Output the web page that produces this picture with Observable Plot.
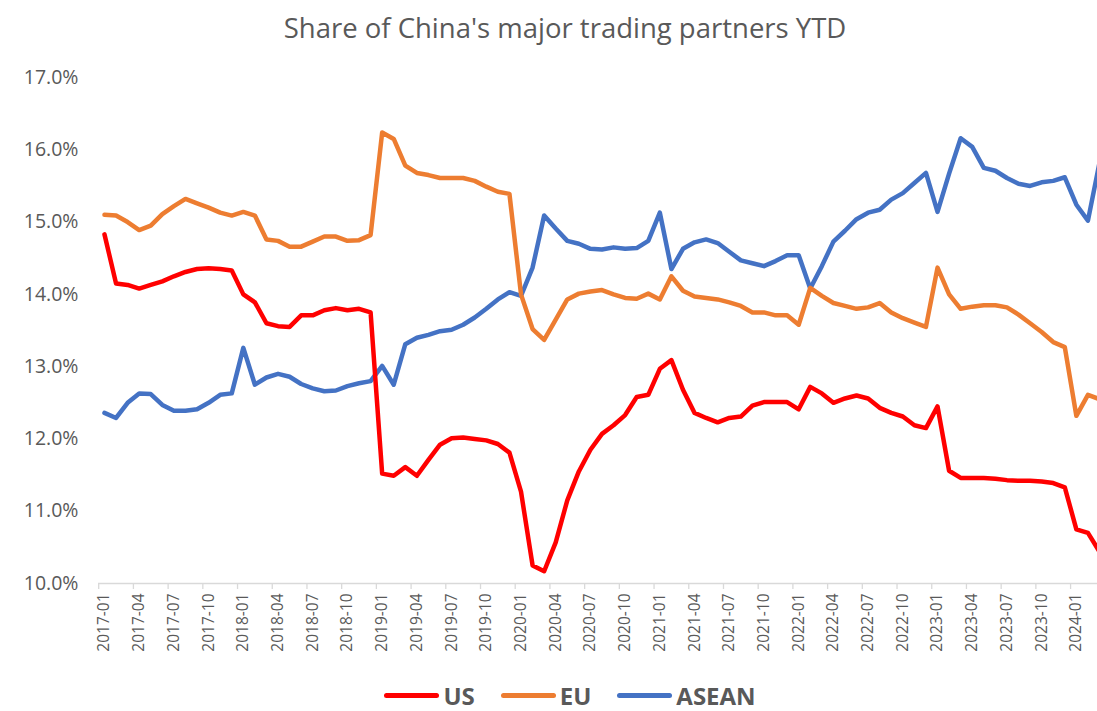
<!DOCTYPE html>
<html>
<head>
<meta charset="utf-8">
<script src="https://cdn.jsdelivr.net/npm/d3@7"></script>
<script src="https://cdn.jsdelivr.net/npm/@observablehq/plot@0.6"></script>
<style>
  html, body { margin: 0; padding: 0; background: #fff; overflow: hidden; width: 1097px; height: 711px; }
  #title { position: absolute; left: 0; top: 9px; width: 1130px; text-align: center;
           font-family: "Open Sans", sans-serif; font-size: 27.5px; color: #595959; line-height: 1.36; }
  #chart { position: absolute; left: 0; top: 56px; width: 1097px; height: 600px; }
  #legend { position: absolute; left: 0; top: 678px; width: 1140px; height: 34px; display: flex;
            justify-content: center; align-items: center; gap: 26px;
            font-family: "Open Sans", sans-serif; font-weight: bold; font-size: 24px; color: #595959; }
  .item { display: flex; align-items: center; gap: 4px; }
  .sw { width: 55px; height: 5px; border-radius: 3px; }
</style>
</head>
<body>
<div id="title"></div>
<div id="chart"></div>
<div id="legend"></div>
<script>
const titleText = "Share of China's major trading partners YTD";

const months = [
  "2017-01","2017-02","2017-03","2017-04","2017-05","2017-06","2017-07","2017-08","2017-09","2017-10","2017-11","2017-12",
  "2018-01","2018-02","2018-03","2018-04","2018-05","2018-06","2018-07","2018-08","2018-09","2018-10","2018-11","2018-12",
  "2019-01","2019-02","2019-03","2019-04","2019-05","2019-06","2019-07","2019-08","2019-09","2019-10","2019-11","2019-12",
  "2020-01","2020-02","2020-03","2020-04","2020-05","2020-06","2020-07","2020-08","2020-09","2020-10","2020-11","2020-12",
  "2021-01","2021-02","2021-03","2021-04","2021-05","2021-06","2021-07","2021-08","2021-09","2021-10","2021-11","2021-12",
  "2022-01","2022-02","2022-03","2022-04","2022-05","2022-06","2022-07","2022-08","2022-09","2022-10","2022-11","2022-12",
  "2023-01","2023-02","2023-03","2023-04","2023-05","2023-06","2023-07","2023-08","2023-09","2023-10","2023-11","2023-12",
  "2024-01","2024-02","2024-03"
];

const xTickLabels = [
  "2017-01","2017-04","2017-07","2017-10","2018-01","2018-04","2018-07","2018-10",
  "2019-01","2019-04","2019-07","2019-10","2020-01","2020-04","2020-07","2020-10",
  "2021-01","2021-04","2021-07","2021-10","2022-01","2022-04","2022-07","2022-10",
  "2023-01","2023-04","2023-07","2023-10","2024-01"
];

const yTicks = [10, 11, 12, 13, 14, 15, 16, 17];

const seriesNames = ["US", "EU", "ASEAN"];
const seriesColors = ["#FF0000", "#ED7D31", "#4472C4"];

const us = [
  14.83, 14.15, 14.13, 14.08, 14.13, 14.18, 14.25, 14.31, 14.35, 14.36, 14.35, 14.33,
  14.00, 13.89, 13.60, 13.56, 13.55, 13.71, 13.71, 13.78, 13.81, 13.78, 13.80, 13.75,
  11.52, 11.49, 11.61, 11.49, 11.71, 11.92, 12.01, 12.02, 12.00, 11.98, 11.93, 11.81,
  11.27, 10.25, 10.17, 10.57, 11.15, 11.55, 11.85, 12.07, 12.19, 12.33, 12.58, 12.61,
  12.97, 13.09, 12.68, 12.36, 12.29, 12.23, 12.29, 12.31, 12.46, 12.51, 12.51, 12.51,
  12.41, 12.72, 12.63, 12.50, 12.56, 12.60, 12.56, 12.43, 12.36, 12.31, 12.19, 12.15,
  12.45, 11.56, 11.46, 11.46, 11.46, 11.45, 11.43, 11.42, 11.42, 11.41, 11.39, 11.33,
  10.75, 10.70, 10.44
];

const eu = [
  15.10, 15.09, 15.00, 14.89, 14.95, 15.11, 15.22, 15.32, 15.26, 15.20, 15.13, 15.09,
  15.14, 15.09, 14.76, 14.74, 14.66, 14.66, 14.73, 14.80, 14.80, 14.74, 14.75, 14.82,
  16.24, 16.15, 15.78, 15.68, 15.65, 15.61, 15.61, 15.61, 15.57, 15.49, 15.42, 15.39,
  14.00, 13.52, 13.37, 13.65, 13.93, 14.01, 14.04, 14.06, 14.00, 13.95, 13.94, 14.01,
  13.93, 14.25, 14.05, 13.97, 13.95, 13.93, 13.89, 13.84, 13.75, 13.75, 13.71, 13.71,
  13.58, 14.09, 13.98, 13.88, 13.84, 13.80, 13.82, 13.88, 13.75, 13.67, 13.61, 13.55,
  14.37, 14.00, 13.80, 13.83, 13.85, 13.85, 13.82, 13.72, 13.60, 13.48, 13.34, 13.27,
  12.32, 12.61, 12.55
];

const asean = [
  12.36, 12.29, 12.50, 12.63, 12.62, 12.47, 12.39, 12.39, 12.41, 12.50, 12.61, 12.63,
  13.26, 12.75, 12.85, 12.90, 12.86, 12.76, 12.70, 12.66, 12.67, 12.73, 12.77, 12.80,
  13.01, 12.75, 13.31, 13.40, 13.44, 13.49, 13.51, 13.58, 13.68, 13.80, 13.93, 14.03,
  13.98, 14.37, 15.09, 14.91, 14.74, 14.70, 14.63, 14.62, 14.65, 14.63, 14.64, 14.74,
  15.13, 14.35, 14.63, 14.72, 14.76, 14.71, 14.59, 14.47, 14.43, 14.39, 14.46, 14.54,
  14.54, 14.08, 14.39, 14.73, 14.88, 15.04, 15.13, 15.17, 15.31, 15.40, 15.54, 15.68,
  15.14, 15.67, 16.16, 16.04, 15.75, 15.71, 15.61, 15.53, 15.50, 15.55, 15.57, 15.62,
  15.24, 15.02, 15.82
];

// Build long table
const seriesValues = { US: us, EU: eu, ASEAN: asean };
const drawOrder = ["ASEAN", "EU", "US"];
const data = drawOrder.flatMap(name =>
  seriesValues[name].map((v, i) => ({ series: name, i, month: months[i], v }))
);

const labelIdx = xTickLabels.map(l => months.indexOf(l));
const boundaryIdx = labelIdx.map(i => i - 0.5);

document.getElementById("title").textContent = titleText;

const chart = Plot.plot({
  width: 1097,
  height: 600,
  marginLeft: 98,
  marginRight: 0,
  marginTop: 21,
  marginBottom: 73,
  style: { fontFamily: "'Open Sans', sans-serif", background: "white", overflow: "hidden" },
  x: { type: "linear", domain: [-0.5, months.length - 0.5], range: [98.2, 98.2 + months.length * 11.57], axis: null },
  y: { domain: [10, 17], axis: null },
  color: { domain: seriesNames, range: seriesColors },
  marks: [
    Plot.axisY({ ticks: yTicks, tickSize: 0, tickPadding: 20, tickFormat: d => d.toFixed(1) + "%",
                 fontSize: 19.5, color: "#595959", label: null }),
    Plot.axisX({ ticks: boundaryIdx, tickSize: 6, tickFormat: () => "", stroke: "#d9d9d9", strokeWidth: 1.3, label: null }),
    Plot.axisX({ ticks: labelIdx, tickSize: 0, tickPadding: 10, tickRotate: -90,
                 tickFormat: i => months[i], fontSize: 15.5, color: "#595959", label: null }),
    Plot.ruleY([10], { stroke: "#d9d9d9", strokeWidth: 1.5 }),
    Plot.line(data, { x: "i", y: "v", z: "series", stroke: "series", strokeWidth: 4.5,
                      strokeLinejoin: "round", strokeLinecap: "round", clip: true })
  ]
});
document.getElementById("chart").appendChild(chart);

const legend = document.getElementById("legend");
seriesNames.forEach((name, k) => {
  const item = document.createElement("div");
  item.className = "item";
  const sw = document.createElement("span");
  sw.className = "sw";
  sw.style.background = seriesColors[k];
  const lab = document.createElement("span");
  lab.textContent = name;
  item.appendChild(sw);
  item.appendChild(lab);
  legend.appendChild(item);
});
</script>
</body>
</html>
